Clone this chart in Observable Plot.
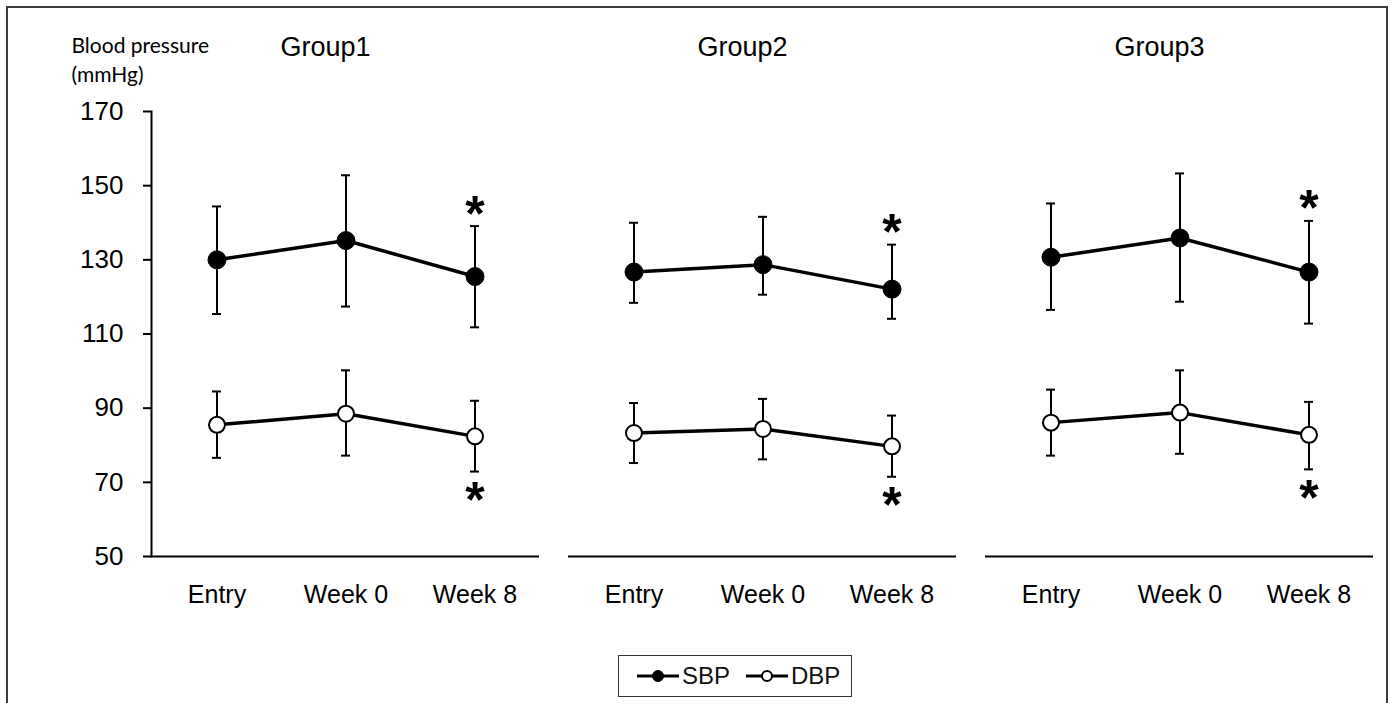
<!DOCTYPE html>
<html><head><meta charset="utf-8">
<script src="https://cdn.jsdelivr.net/npm/d3@7"></script>
<script src="https://cdn.jsdelivr.net/npm/@observablehq/plot@0.6"></script>
<style>
body{margin:0;background:#fff;}
#wrap{position:relative;width:1392px;height:703px;overflow:hidden;background:#fff;font-family:'Liberation Sans',Arial,sans-serif;}
#border{position:absolute;left:6px;top:6px;width:1382px;height:740px;border:2px solid #3a3a3a;box-sizing:border-box;}
#chart{position:absolute;left:0;top:0;}
#legend{position:absolute;left:618px;top:655px;width:234px;height:42px;border:1px solid #333;box-sizing:border-box;display:flex;align-items:center;padding-left:18px;font-size:24px;color:#111;}
#legend .item{display:flex;align-items:center;margin-right:16px;}
#legend svg{margin-right:3px;}
</style></head>
<body><div id="wrap"><div id="border"></div><div id="chart"></div><div id="legend"></div></div>
<script>
const groups = ["Group1", "Group2", "Group3"];
const timepoints = ["Entry", "Week 0", "Week 8"];
const seriesNames = ["SBP", "DBP"];
const sbpMean  = [[130.0, 135.2, 125.5], [126.7, 128.7, 122.1], [130.7, 135.9, 126.7]];
const sbpUpper = [[144.4, 152.8, 139.1], [140.0, 141.6, 134.1], [145.2, 153.3, 140.5]];
const sbpLower = [[115.4, 117.4, 111.8], [118.4, 120.6, 114.1], [116.5, 118.7, 112.8]];
const dbpMean  = [[85.5, 88.5, 82.4], [83.3, 84.4, 79.7], [86.1, 88.8, 82.8]];
const dbpUpper = [[94.5, 100.2, 92.0], [91.4, 92.5, 88.0], [95.0, 100.2, 91.7]];
const dbpLower = [[76.6, 77.2, 72.9], [75.2, 76.2, 71.5], [77.2, 77.7, 73.5]];
const significant = [[false, false, true], [false, false, true], [false, false, true]];
const yTicks = [50, 70, 90, 110, 130, 150, 170];
const yLabel = "Blood pressure\n(mmHg)";

const rows = [];
groups.forEach((g, gi) => {
  timepoints.forEach((t, ti) => {
    rows.push({group: g, time: t, series: "SBP", mean: sbpMean[gi][ti], hi: sbpUpper[gi][ti], lo: sbpLower[gi][ti], sig: significant[gi][ti]});
    rows.push({group: g, time: t, series: "DBP", mean: dbpMean[gi][ti], hi: dbpUpper[gi][ti], lo: dbpLower[gi][ti], sig: significant[gi][ti]});
  });
});
const sbpRows = rows.filter(d => d.series === "SBP");
const dbpRows = rows.filter(d => d.series === "DBP");
const capInset = 60;

const chart = Plot.plot({
  width: 1392,
  height: 640,
  marginLeft: 151,
  marginRight: 19,
  marginTop: 111,
  marginBottom: 84,
  style: {fontFamily: "'Liberation Sans', Arial, sans-serif", color: "#000", background: "transparent"},
  fx: {domain: groups, paddingInner: 0.07, paddingOuter: 0, axis: null},
  x: {type: "band", domain: timepoints, padding: 0},
  y: {domain: [50, 170]},
  marks: [
    Plot.frame({anchor: "left", facetAnchor: "left", strokeWidth: 2}),
    Plot.ruleY([50], {strokeWidth: 2}),
    Plot.axisY({ticks: yTicks, tickSize: 8, tickPadding: 20, fontSize: 26, label: null, strokeWidth: 2}),
    Plot.axisX({tickSize: 0, tickPadding: 29, fontSize: 25, label: null}),
    Plot.ruleX(rows, {fx: "group", x: "time", y1: "lo", y2: "hi", strokeWidth: 2}),
    Plot.tickY(rows, {fx: "group", x: "time", y: "hi", insetLeft: capInset, insetRight: capInset, strokeWidth: 2}),
    Plot.tickY(rows, {fx: "group", x: "time", y: "lo", insetLeft: capInset, insetRight: capInset, strokeWidth: 2}),
    Plot.line(rows, {fx: "group", x: "time", y: "mean", z: "series", stroke: "#000", strokeWidth: 3.5}),
    Plot.dot(sbpRows, {fx: "group", x: "time", y: "mean", r: 9, fill: "#000", stroke: "#000", strokeWidth: 1}),
    Plot.dot(dbpRows, {fx: "group", x: "time", y: "mean", r: 8, fill: "#fff", stroke: "#000", strokeWidth: 2}),
    Plot.text(sbpRows.filter(d => d.sig), {fx: "group", x: "time", y: "hi", text: () => "*", fontSize: 50, fontWeight: "bold", lineAnchor: "top", dy: -31}),
    Plot.text(dbpRows.filter(d => d.sig), {fx: "group", x: "time", y: "lo", text: () => "*", fontSize: 50, fontWeight: "bold", lineAnchor: "top", dy: 10}),
    Plot.text(groups, {fx: d => d, text: d => d, frameAnchor: "top", lineAnchor: "top", dy: -75, dx: -20, fontSize: 27}),
    Plot.text([{group: groups[0], label: yLabel}], {fx: "group", text: "label", frameAnchor: "top-left", textAnchor: "start", lineAnchor: "top", dx: -80, dy: -79, fontSize: 21, lineHeight: 1.38, fontFamily: "Lato, 'Open Sans', sans-serif"})
  ]
});
document.getElementById("chart").appendChild(chart);

const legend = document.getElementById("legend");
seriesNames.forEach(name => {
  const item = document.createElement("div");
  item.className = "item";
  const filled = name === "SBP";
  item.innerHTML = `<svg width="42" height="14"><line x1="0" x2="42" y1="7" y2="7" stroke="#000" stroke-width="3"/><circle cx="21" cy="7" r="${filled ? 5.5 : 5}" fill="${filled ? "#000" : "#fff"}" stroke="#000" stroke-width="${filled ? 1 : 2}"/></svg><span>${name}</span>`;
  legend.appendChild(item);
});
</script>
</body></html>
